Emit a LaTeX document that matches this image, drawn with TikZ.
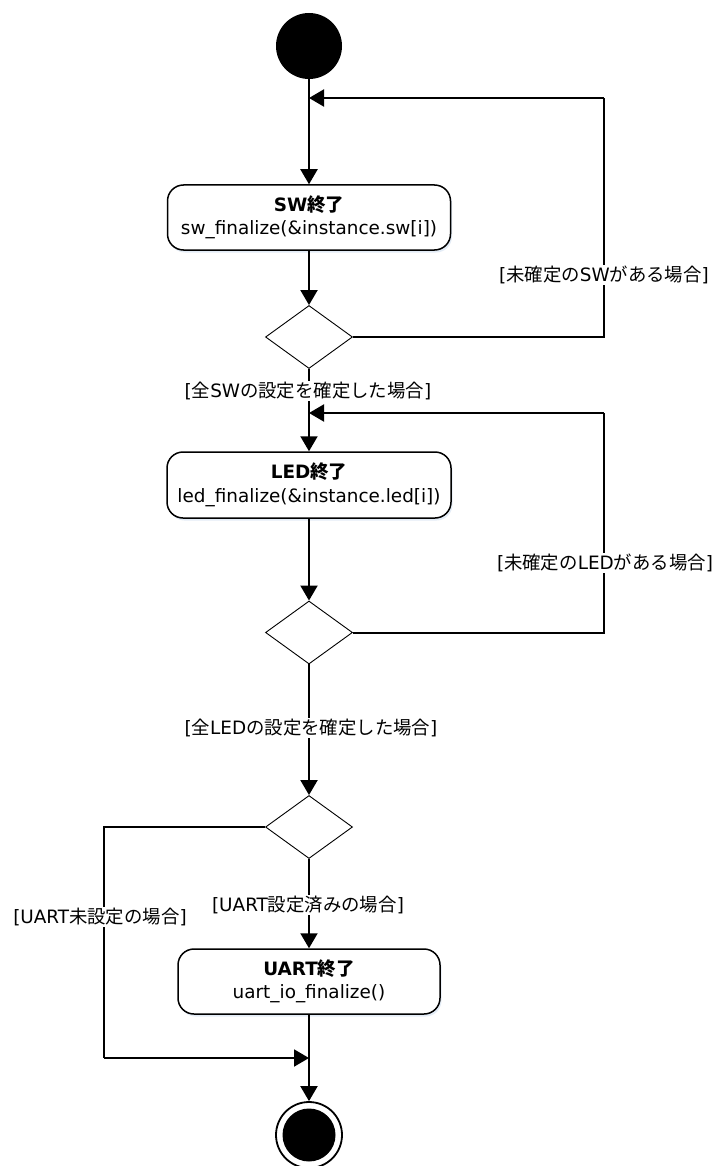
\documentclass[tikz,border=0pt]{standalone}
\usepackage{fontspec}
\setmainfont{DejaVu Sans}
\newfontfamily\jpfont{Noto Sans CJK JP}
\usetikzlibrary{shapes.geometric,arrows.meta,shadows}
\newcommand\J[1]{{\jpfont #1}}
\begin{document}
\begin{tikzpicture}[x=1pt,y=-1pt,
  txt/.style={font=\fontsize{18.4}{23.5}\selectfont},
  actbox/.style={draw, line width=1.5pt, rounded corners=16pt, fill=white, align=center, inner sep=0pt, txt,
     drop shadow={shadow xshift=1.5pt, shadow yshift=-2.5pt, fill=cyan!40!blue, opacity=0.12}},
  decis/.style={diamond, draw, line width=0.9pt, fill=white, inner sep=0pt, minimum width=87pt, minimum height=63pt},
  lbl/.style={fill=white, inner sep=1pt, txt},
  arr/.style={-{Triangle[length=15pt,width=17pt]}, line width=2pt},
  ln/.style={line width=2pt}
]
\fill[white] (0,0) rectangle (719,1166);
\useasboundingbox (0,0) rectangle (719,1166);

% nodes
\node[circle, fill=black, minimum size=66pt, inner sep=0pt] (start) at (309,46) {};
\node[actbox, minimum width=283pt, minimum height=65pt] (sw) at (309,217.5)
  {\textbf{SW\J{終了}}\\sw\_finalize(\&instance.sw[i])};
\node[decis] (d1) at (309,337) {};
\node[actbox, minimum width=284pt, minimum height=66pt] (led) at (309,485)
  {\textbf{LED\J{終了}}\\led\_finalize(\&instance.led[i])};
\node[decis] (d2) at (309,632.5) {};
\node[decis] (d3) at (309,827) {};
\node[actbox, minimum width=262pt, minimum height=65pt] (uart) at (309,981.5)
  {\textbf{UART\J{終了}}\\uart\_io\_finalize()};
\node[circle, draw, line width=1.8pt, fill=white, minimum size=66pt, inner sep=0pt] (end) at (309,1135) {};
\node[circle, fill=black, minimum size=53pt, inner sep=0pt] (endin) at (end.center) {};

% coordinates
\coordinate (j1) at (309,98);
\coordinate (r1) at (604,98);
\coordinate (j2) at (309,413);
\coordinate (r2) at (604,413);
\coordinate (l3) at (104,1058);
\coordinate (j3) at (309,1058);

% connectors
\draw[arr] (start.south) -- (sw.north);
\draw[arr] (sw.south) -- (d1.north);
\draw[ln] (d1.east) -| (r1);
\draw[arr] (r1) -- (j1);
\draw[arr] (d1.south) -- (led.north);
\draw[arr] (led.south) -- (d2.north);
\draw[ln] (d2.east) -| (r2);
\draw[arr] (r2) -- (j2);
\draw[arr] (d2.south) -- (d3.north);
\draw[arr] (d3.south) -- (uart.north);
\draw[ln] (d3.west) -| (l3);
\draw[arr] (l3) -- (j3);
\draw[arr] (uart.south) -- (end.north);

% labels
\node[lbl] (g1) at (604,275) {[\J{未確定の}SW\J{がある場合}]};
\node[lbl] (g2) at (308,391) {[\J{全}SW\J{の設定を確定した場合}]};
\node[lbl] (g3) at (605,563) {[\J{未確定の}LED\J{がある場合}]};
\node[lbl] (g4) at (311,728) {[\J{全}LED\J{の設定を確定した場合}]};
\node[lbl] (g5) at (308,905) {[UART\J{設定済みの場合}]};
\node[lbl] (g6) at (100,917) {[UART\J{未設定の場合}]};
\end{tikzpicture}
\end{document}
